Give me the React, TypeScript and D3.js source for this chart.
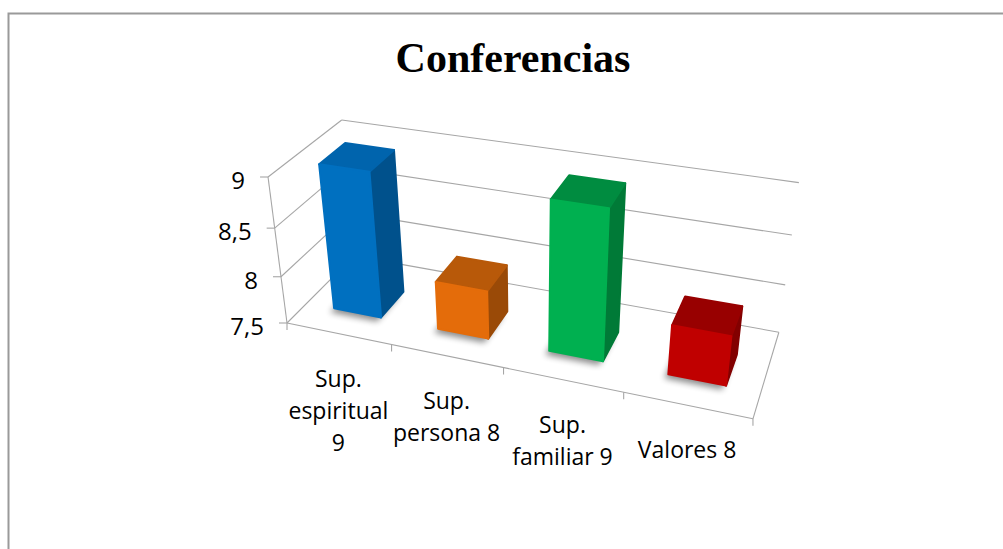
import * as d3 from 'd3'
import { useEffect, useRef } from 'react'

const categories = [
  ['Sup.', 'espiritual', '9'],
  ['Sup.', 'persona 8'],
  ['Sup.', 'familiar 9'],
  ['Valores 8'],
]
const values = [9, 8, 9, 8]
const valueTicks = [7.5, 8, 8.5, 9]
const tickLabels = ['7,5', '8', '8,5', '9']
const barColors = [
  { front: '#0070c0', top: '#0064ad', side: '#00518c' },
  { front: '#e46c0a', top: '#b85909', side: '#9a4a07' },
  { front: '#00b050', top: '#008c40', side: '#007a37' },
  { front: '#c00000', top: '#980000', side: '#820000' },
]

// camera (fitted to an Excel-style perspective 3D column chart)
const deg = Math.PI / 180
const yaw = 21.7 * deg
const pitch = 30.3 * deg
const roll = 1.17 * deg
const focal = 1119
const center = [491, 280]
const origin = [-204, 43, 1119]

function project(x: number, y: number, z: number): [number, number] {
  const x1 = x * Math.cos(yaw) + z * Math.sin(yaw)
  const z1 = -x * Math.sin(yaw) + z * Math.cos(yaw)
  const y2 = -y * Math.cos(pitch) - z1 * Math.sin(pitch)
  const z2 = -y * Math.sin(pitch) + z1 * Math.cos(pitch)
  const x3 = x1 * Math.cos(roll) + y2 * Math.sin(roll)
  const y3 = -x1 * Math.sin(roll) + y2 * Math.cos(roll)
  const d = z2 + origin[2]
  return [center[0] + (focal * (x3 + origin[0])) / d, center[1] + (focal * (y3 + origin[1])) / d]
}

export default function App() {
  const svgRef = useRef<SVGSVGElement | null>(null)

  useEffect(() => {
    if (!svgRef.current) return
    const svg = d3.select(svgRef.current)
    svg.selectAll('*').remove()

    const W = 462.5
    const H = 160.5
    const D = 146.3

    const x = d3
      .scaleBand<number>()
      .domain(values.map((_, i) => i))
      .range([0, W])
      .paddingInner(0.54)
      .paddingOuter(0.27)
    const y = d3.scaleLinear().domain([7.5, 9]).range([0, H])
    const zFront = D * 0.28
    const zBack = zFront + x.bandwidth()
    const step = W / values.length

    const line = d3.line<[number, number]>()
    const poly = (pts: [number, number, number][]) =>
      line(pts.map((p) => project(p[0], p[1], p[2])))! + 'Z'

    const defs = svg.append('defs')
    defs
      .append('filter')
      .attr('id', 'blur')
      .attr('x', '-50%')
      .attr('y', '-50%')
      .attr('width', '200%')
      .attr('height', '200%')
      .append('feGaussianBlur')
      .attr('stdDeviation', 3)

    // frame
    svg
      .append('rect')
      .attr('x', 8.5)
      .attr('y', 13.5)
      .attr('width', 1010)
      .attr('height', 560)
      .attr('fill', '#fff')
      .attr('stroke', '#9a9a9a')
      .attr('stroke-width', 2)

    svg
      .append('text')
      .attr('x', 513)
      .attr('y', 72)
      .attr('text-anchor', 'middle')
      .style('font-family', '"Liberation Serif", "Times New Roman", serif')
      .style('font-weight', 'bold')
      .style('font-size', '42px')
      .text('Conferencias')

    const grid = svg.append('g').attr('stroke', '#a6a6a6').attr('stroke-width', 1.1).attr('fill', 'none')

    // back wall + left wall gridlines
    valueTicks.forEach((v) => {
      grid.append('path').attr('d', line([project(0, y(v), D), project(W, y(v), D)]))
      grid.append('path').attr('d', line([project(0, y(v), 0), project(0, y(v), D)]))
    })
    // floor edges and value axis
    grid.append('path').attr('d', line([project(0, 0, 0), project(W, 0, 0)]))
    grid.append('path').attr('d', line([project(W, 0, 0), project(W, 0, D)]))
    grid.append('path').attr('d', line([project(0, 0, 0), project(0, H, 0)]))

    // value ticks + labels
    valueTicks.forEach((v, i) => {
      const [px, py] = project(0, y(v), 0)
      grid.append('path').attr('d', line([[px - 8, py], [px, py]]))
      svg
        .append('text')
        .attr('x', px - 23)
        .attr('y', py + 2.5)
        .attr('text-anchor', 'end')
        .attr('dominant-baseline', 'central')
        .style('font-family', '"Open Sans", sans-serif')
        .style('font-size', '24px')
        .text(tickLabels[i])
    })

    // category ticks
    d3.range(values.length + 1).forEach((i) => {
      const [px, py] = project(i * step, 0, 0)
      grid.append('path').attr('d', line([[px, py], [px, py + 7]]))
    })

    // shadows
    svg
      .append('g')
      .selectAll('path')
      .data(values)
      .join('path')
      .attr('d', (_, i) => {
        const x0 = x(i)!
        const x1 = x0 + x.bandwidth()
        return poly([
          [x0, 0, zFront],
          [x1, 0, zFront],
          [x1, 0, zBack],
          [x0, 0, zBack],
        ])
      })
      .attr('transform', 'translate(-4,4)')
      .attr('fill', '#000')
      .attr('opacity', 0.45)
      .attr('filter', 'url(#blur)')

    // bars
    const bars = svg
      .append('g')
      .selectAll('g')
      .data(values)
      .join('g')
      .attr('stroke-linejoin', 'round')
      .attr('stroke-width', 2)

    bars.each(function (v, i) {
      const g = d3.select(this)
      const x0 = x(i)!
      const x1 = x0 + x.bandwidth()
      const h = y(v)
      const c = barColors[i]
      g.append('path')
        .attr('d', poly([
          [x1, 0, zFront],
          [x1, 0, zBack],
          [x1, h, zBack],
          [x1, h, zFront],
        ]))
        .attr('fill', c.side)
        .attr('stroke', c.side)
      g.append('path')
        .attr('d', poly([
          [x0, h, zFront],
          [x1, h, zFront],
          [x1, h, zBack],
          [x0, h, zBack],
        ]))
        .attr('fill', c.top)
        .attr('stroke', c.top)
      g.append('path')
        .attr('d', poly([
          [x0, 0, zFront],
          [x1, 0, zFront],
          [x1, h, zFront],
          [x0, h, zFront],
        ]))
        .attr('fill', c.front)
        .attr('stroke', c.front)
    })

    // category labels
    categories.forEach((lines, i) => {
      const [px, py] = project(x(i)! + x.bandwidth() / 2, 0, 0)
      const t = svg
        .append('text')
        .attr('text-anchor', 'middle')
        .style('font-family', '"Open Sans", sans-serif')
        .style('font-size', '23px')
      lines.forEach((s, k) => {
        t.append('tspan')
          .attr('x', px)
          .attr('y', py + 53 + k * 32)
          .text(s)
      })
    })
  }, [])

  return (
    <svg
      ref={svgRef}
      width={1003}
      height={549}
      style={{ position: 'absolute', left: 0, top: 0, background: '#fff' }}
    />
  )
}
